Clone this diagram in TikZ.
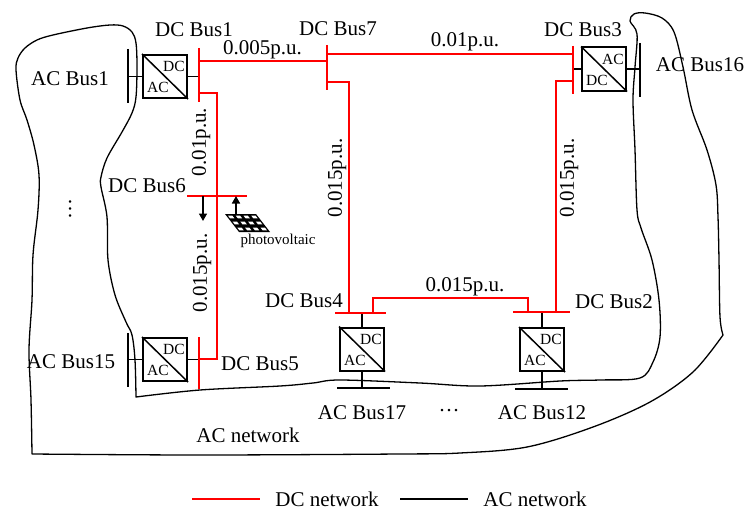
\documentclass[tikz,border=0pt]{standalone}
\usepackage{fontspec}
\setmainfont{Liberation Serif}
\usetikzlibrary{arrows.meta,calc}
\begin{document}
\begin{tikzpicture}[x=1pt,y=-1pt,
  lbl/.style={font=\fontsize{21}{24}\selectfont, inner sep=0pt},
  sm/.style={font=\fontsize{15.5}{18}\selectfont, inner sep=0pt},
  pvtext/.style={font=\fontsize{15}{18}\selectfont, inner sep=0pt},
  dc/.style={draw=red, line width=1.7pt},
  dcbar/.style={draw=red, line width=2pt},
  ac/.style={draw=black, line width=1.3pt},
  acbar/.style={draw=black, line width=2pt},
  conv/.style={draw, line width=2pt, minimum width=44pt, minimum height=43pt, inner sep=0pt},
  diag/.style={draw, line width=1.5pt},
  flow/.style={draw, line width=1.6pt, -{Triangle[width=8pt,length=7.5pt]}}]
\useasboundingbox (0,0) rectangle (746,511);

% ---------- AC network boundary ----------
\draw[ac, line join=round]
  plot[smooth, tension=0.55] coordinates {(32,454) (200,455) (400,454) (460,453) (527,447) (593,427) (650,402) (693,372) (723,335)}
  -- plot[smooth, tension=0.55] coordinates {(723,335) (720,317) (719,260) (718,217) (716,185) (707,150) (692,110) (683,67) (674,32) (662,18) (645,13) (634,14) (630,21) (637,34) (635,67) (633,100) (635,150) (637,210) (641,228) (652,260) (659,300) (660,337) (653,362) (640,378) (600,380) (560,381) (480,386) (420,383) (340,380) (313,383) (280,386) (200,390) (136,397)}
  -- plot[smooth, tension=0.55] coordinates {(136,397) (135,360) (132,335) (126,322) (115,295) (108,260) (107,217) (101,187) (101,177) (107,158) (122,132) (132,113) (136,97) (137,67) (136,43) (132,32) (123,26) (110,25) (87,28) (53,35) (37,40) (25,48) (18,58) (16,70) (20,100) (27,120) (34,145) (39,175) (38,210) (33,255) (32,300) (29,350) (31,400) (32,454)}
  -- cycle;

% ---------- converters ----------
\node[conv] (cv1) at (165,76.5) {};
\draw[diag] (cv1.north west) -- (cv1.south east);
\node[sm] (cv1dc) at ($(cv1.center)+(9,-10)$) {DC};
\node[sm] (cv1ac) at ($(cv1.center)+(-7,11)$) {AC};

\node[conv] (cv15) at (165,359.5) {};
\draw[diag] (cv15.north west) -- (cv15.south east);
\node[sm] (cv15dc) at ($(cv15.center)+(9,-10)$) {DC};
\node[sm] (cv15ac) at ($(cv15.center)+(-7,11)$) {AC};

\node[conv] (cv3) at (604,69) {};
\draw[diag] (cv3.north west) -- (cv3.south east);
\node[sm] (cv3ac) at ($(cv3.center)+(9,-10)$) {AC};
\node[sm] (cv3dc) at ($(cv3.center)+(-7,11)$) {DC};

\node[conv] (cv4) at (362,349) {};
\draw[diag] (cv4.north west) -- (cv4.south east);
\node[sm] (cv4dc) at ($(cv4.center)+(9,-10)$) {DC};
\node[sm] (cv4ac) at ($(cv4.center)+(-7,11)$) {AC};

\node[conv] (cv2) at (542,349.5) {};
\draw[diag] (cv2.north west) -- (cv2.south east);
\node[sm] (cv2dc) at ($(cv2.center)+(9,-10)$) {DC};
\node[sm] (cv2ac) at ($(cv2.center)+(-7,11)$) {AC};

% ---------- bus coordinates ----------
\coordinate (ac1t) at (128,49);   \coordinate (ac1b) at (128,103);
\coordinate (ac15t) at (128,333); \coordinate (ac15b) at (128,387);
\coordinate (ac16t) at (640,43);  \coordinate (ac16b) at (640,97);
\coordinate (ac17l) at (337,388); \coordinate (ac17r) at (390,388);
\coordinate (ac12l) at (515,389); \coordinate (ac12r) at (568,389);

\coordinate (dc1t) at (199,48);   \coordinate (dc1b) at (199,102);
\coordinate (dc7t) at (327,45);   \coordinate (dc7b) at (327,90);
\coordinate (dc3t) at (573,46);   \coordinate (dc3b) at (573,94);
\coordinate (dc6l) at (187,196);  \coordinate (dc6r) at (247,196);
\coordinate (dc5t) at (199,337);  \coordinate (dc5b) at (199,389);
\coordinate (dc4l) at (335,313);  \coordinate (dc4r) at (386,313);
\coordinate (dc2l) at (513,312);  \coordinate (dc2r) at (570,312);

% AC bus bars
\draw[acbar] (ac1t) -- (ac1b);
\draw[acbar] (ac15t) -- (ac15b);
\draw[acbar] (ac16t) -- (ac16b);
\draw[acbar] (ac17l) -- (ac17r);
\draw[acbar] (ac12l) -- (ac12r);

% AC side links
\draw[ac] (ac1t |- cv1.west) -- (cv1.west);
\draw[ac] (cv1.east) -- (dc1t |- cv1.east);
\draw[ac] (ac15t |- cv15.west) -- (cv15.west);
\draw[ac] (cv15.east) -- (dc5t |- cv15.east);
\draw[ac] (dc3t |- cv3.west) -- (cv3.west);
\draw[ac] (cv3.east) -- (ac16t |- cv3.east);
\draw[ac] (cv4.north) -- (cv4.north |- dc4l);
\draw[ac] (cv4.south) -- (cv4.south |- ac17l);
\draw[ac] (cv2.north) -- (cv2.north |- dc2l);
\draw[ac] (cv2.south) -- (cv2.south |- ac12l);

% DC bus bars
\draw[dcbar] (dc1t) -- (dc1b);
\draw[dcbar] (dc7t) -- (dc7b);
\draw[dcbar] (dc3t) -- (dc3b);
\draw[dcbar] (dc6l) -- (dc6r);
\draw[dcbar] (dc5t) -- (dc5b);
\draw[dcbar] (dc4l) -- (dc4r);
\draw[dcbar] (dc2l) -- (dc2r);

% DC lines
\coordinate (j17a) at (199,61);  \coordinate (j17b) at (327,61);
\coordinate (j73a) at (327,54);  \coordinate (j73b) at (573,54);
\coordinate (j15a) at (199,93);  \coordinate (j15b) at (217,93);
\coordinate (j15c) at (217,359); \coordinate (j15d) at (199,359);
\coordinate (j74a) at (327,82);  \coordinate (j74b) at (349,82); \coordinate (j74c) at (349,313);
\coordinate (j32a) at (573,81);  \coordinate (j32b) at (556,81); \coordinate (j32c) at (556,312);
\coordinate (j42a) at (373,313); \coordinate (j42b) at (373,298);
\coordinate (j42c) at (528,298); \coordinate (j42d) at (528,312);
\draw[dc] (j17a) -- (j17b);
\draw[dc] (j73a) -- (j73b);
\draw[dc] (j15a) -- (j15b) -- (j15c) -- (j15d);
\draw[dc] (j74a) -- (j74b) -- (j74c);
\draw[dc] (j32a) -- (j32b) -- (j32c);
\draw[dc] (j42a) -- (j42b) -- (j42c) -- (j42d);

% ---------- photovoltaic ----------
\coordinate (pvA) at (225,214); \coordinate (pvB) at (256,214);
\coordinate (pvC) at (270,232); \coordinate (pvD) at (239,232);
\fill[black] (pvA) -- (pvB) -- (pvC) -- (pvD) -- cycle;
\foreach \i in {0,1,2,3}{\foreach \j in {0,1,2}{
  \pgfmathsetmacro\ua{(\i+0.22)/4}\pgfmathsetmacro\ub{(\i+0.78)/4}
  \pgfmathsetmacro\va{(\j+0.28)/3}\pgfmathsetmacro\vb{(\j+0.72)/3}
  \fill[white] ({225+31*\ua+14*\va},{214+18*\va}) -- ({225+31*\ub+14*\va},{214+18*\va})
     -- ({225+31*\ub+14*\vb},{214+18*\vb}) -- ({225+31*\ua+14*\vb},{214+18*\vb}) -- cycle;}}
\coordinate (ldS) at (203,196); \coordinate (ldE) at (203,221);
\coordinate (pvS) at (236,214); \coordinate (pvE) at (236,196);
\draw[flow] (ldS) -- (ldE);
\draw[flow] (pvS) -- (pvE);
\node[pvtext] (pvlbl) at (278,241) {photovoltaic};

% ---------- labels ----------
\node[lbl] (tAC1) at (70,79) {AC Bus1};
\node[lbl] (tDC1) at (194,30) {DC Bus1};
\node[lbl] (tDC7) at (338,29) {DC Bus7};
\node[lbl] (tDC3) at (583,30) {DC Bus3};
\node[lbl] (tAC16) at (700,65) {AC Bus16};
\node[lbl] (r17) at (262.5,50) {0.005p.u.};
\node[lbl] (r73) at (465,42) {0.01p.u.};
\node[lbl, rotate=90] (r16) at (201,142) {0.01p.u.};
\node[lbl] (tDC6) at (147,186) {DC Bus6};
\node[lbl, rotate=90] (r65) at (202,273) {0.015p.u.};
\node[lbl, rotate=90] (r74) at (337,178) {0.015p.u.};
\node[lbl, rotate=90] (r32) at (569,178) {0.015p.u.};
\node[lbl, rotate=90] (vdots) at (73,209) {···};
\node[lbl] (tDC4) at (304,301) {DC Bus4};
\node[lbl] (r42) at (465,287) {0.015p.u.};
\node[lbl] (tDC2) at (614,302) {DC Bus2};
\node[lbl] (tAC15) at (71,362) {AC Bus15};
\node[lbl] (tDC5) at (260,364) {DC Bus5};
\node[lbl] (tAC17) at (362,413) {AC Bus17};
\node[lbl] (hdots) at (449,413) {···};
\node[lbl] (tAC12) at (542,413) {AC Bus12};
\node[lbl] (tACn) at (248,435) {AC network};

% ---------- legend ----------
\coordinate (lg1a) at (192,499); \coordinate (lg1b) at (260,499);
\coordinate (lg2a) at (400,499); \coordinate (lg2b) at (468,499);
\draw[dc] (lg1a) -- (lg1b);
\draw[ac] (lg2a) -- (lg2b);
\node[lbl] (lgDC) at (327,499) {DC network};
\node[lbl] (lgAC) at (535,499) {AC network};
\end{tikzpicture}
\end{document}
